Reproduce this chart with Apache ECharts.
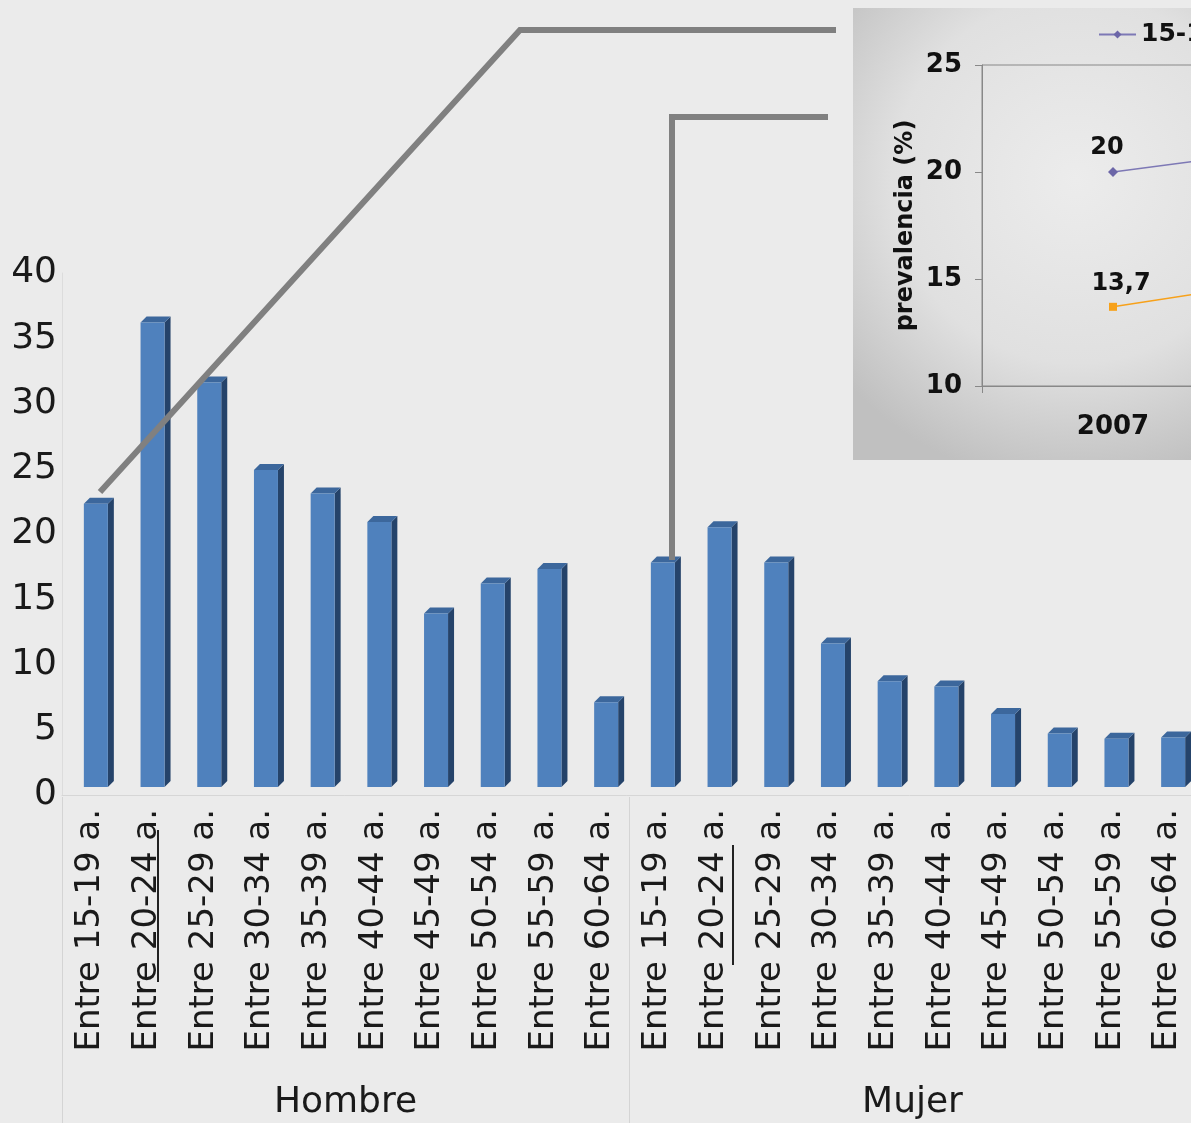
<!DOCTYPE html>
<html>
<head>
<meta charset="utf-8">
<script src="https://cdn.jsdelivr.net/npm/echarts@6/dist/echarts.min.js"></script>
<style>
html,body{margin:0;padding:0;background:#ebebeb;}
#main{width:1191px;height:1123px;}
</style>
</head>
<body>
<div id="main"></div>
<script>
// ---- data ----
var categories = [
  'Entre 15-19 a.','Entre 20-24 a.','Entre 25-29 a.','Entre 30-34 a.','Entre 35-39 a.',
  'Entre 40-44 a.','Entre 45-49 a.','Entre 50-54 a.','Entre 55-59 a.','Entre 60-64 a.',
  'Entre 15-19 a.','Entre 20-24 a.','Entre 25-29 a.','Entre 30-34 a.','Entre 35-39 a.',
  'Entre 40-44 a.','Entre 45-49 a.','Entre 50-54 a.','Entre 55-59 a.','Entre 60-64 a.'
];
var groups = ['Hombre', 'Mujer'];
var prevalence = [21.7, 35.6, 31.0, 24.3, 22.5, 20.3, 13.3, 15.6, 16.7, 6.5,
                  17.2, 19.9, 17.2, 11.0, 8.1, 7.7, 5.6, 4.1, 3.7, 3.8];
var valueTicks = {min: 0, max: 40, interval: 5};

var insetYears = ['2007', '2009'];
var insetSeriesNames = ['15-19 a. Hombre', '15-19 a. Mujer'];
var insetHombre = [20, 21.6];
var insetMujer = [13.7, 15.6];
var insetTicks = {min: 10, max: 25, interval: 5};

var FONT = '"DejaVu Sans", sans-serif';

function renderBar(params, api) {
  var idx = api.value(0);
  var top = api.coord([idx, api.value(1)]);
  var base = api.coord([idx, 0]);
  var lift = 8, dx = 6, dy = 6;
  var x0 = top[0] - 6.5, x1 = top[0] + 17.5;
  var yt = top[1] - lift, yb = base[1] - lift;
  return {
    type: 'group',
    children: [
      {type: 'polygon', shape: {points: [[x1, yt], [x1 + dx, yt - dy], [x1 + dx, yb - dy], [x1, yb]]},
       style: {fill: '#25436a'}},
      {type: 'polygon', shape: {points: [[x0, yt], [x0 + dx, yt - dy], [x1 + dx, yt - dy], [x1, yt]]},
       style: {fill: '#3c679c'}},
      {type: 'rect', shape: {x: x0, y: yt, width: x1 - x0, height: yb - yt},
       style: {fill: '#4f81bd'}}
    ]
  };
}

function commaLabel(p) { return String(p.value).replace('.', ','); }

var chart = echarts.init(document.getElementById('main'));
chart.setOption({
  backgroundColor: '#ebebeb',
  animation: false,
  textStyle: {fontFamily: FONT},
  legend: {
    left: 1093, top: 17,
    itemWidth: 37, itemHeight: 10, itemGap: 30,
    textStyle: {fontFamily: FONT, fontSize: 25, fontWeight: 'bold', color: '#111'},
    data: [insetSeriesNames[0]]
  },
  grid: [
    {left: 62, right: -5, top: 273, bottom: 328, outerBoundsMode: 'none', containLabel: false},
    {left: 982, width: 524, top: 65, bottom: 737, show: true, borderColor: '#888', borderWidth: 1,
     backgroundColor: 'transparent', outerBoundsMode: 'none', containLabel: false}
  ],
  xAxis: [
    {
      gridIndex: 0, type: 'category', data: categories,
      axisLine: {show: true, lineStyle: {color: '#d6d6d6', width: 1}},
      axisTick: {show: false},
      axisLabel: {rotate: 90, interval: 0, margin: 14, fontSize: 34, color: '#1a1a1a', fontFamily: FONT}
    },
    {
      gridIndex: 0, type: 'category', data: groups, position: 'bottom', offset: 328,
      axisLine: {show: false},
      axisTick: {show: true, inside: true, length: 326, lineStyle: {color: '#d4d4d4', width: 1}},
      axisLabel: {inside: true, margin: 2, fontSize: 36, color: '#1a1a1a', fontFamily: FONT}
    },
    {
      gridIndex: 1, type: 'category', data: insetYears,
      axisLine: {show: true, lineStyle: {color: '#888'}},
      axisTick: {show: true, length: 7, lineStyle: {color: '#888'}},
      axisLabel: {margin: 28, fontSize: 26, fontWeight: 'bold', color: '#111', fontFamily: FONT}
    }
  ],
  yAxis: [
    {
      gridIndex: 0, type: 'value', min: valueTicks.min, max: valueTicks.max, interval: valueTicks.interval,
      axisLine: {show: true, lineStyle: {color: '#dcdcdc'}},
      axisTick: {show: false},
      splitLine: {show: false},
      axisLabel: {margin: 5, fontSize: 36, color: '#1a1a1a', fontFamily: FONT}
    },
    {
      gridIndex: 1, type: 'value', min: insetTicks.min, max: insetTicks.max, interval: insetTicks.interval,
      name: 'prevalencia (%)', nameLocation: 'middle', nameGap: 64, nameRotate: 90,
      nameTextStyle: {fontSize: 24, fontWeight: 'bold', color: '#111', fontFamily: FONT},
      axisLine: {show: true, lineStyle: {color: '#888'}},
      axisTick: {show: true, length: 7, lineStyle: {color: '#888'}},
      splitLine: {show: false},
      axisLabel: {margin: 20, fontSize: 26, fontWeight: 'bold', color: '#111', fontFamily: FONT}
    }
  ],
  series: [
    {
      type: 'custom', xAxisIndex: 0, yAxisIndex: 0,
      renderItem: renderBar,
      data: prevalence.map(function (v, i) { return [i, v]; }),
      z: 3
    },
    {
      name: insetSeriesNames[0], type: 'line', xAxisIndex: 2, yAxisIndex: 1,
      data: insetHombre, symbol: 'diamond', symbolSize: 10,
      lineStyle: {color: '#7d78b5', width: 1.5},
      itemStyle: {color: '#6c66a8'},
      label: {show: true, position: 'top', distance: 7, offset: [-6, 0], fontSize: 24, fontWeight: 'bold',
              color: '#111', fontFamily: FONT, formatter: commaLabel},
      z: 5
    },
    {
      name: insetSeriesNames[1], type: 'line', xAxisIndex: 2, yAxisIndex: 1,
      data: insetMujer, symbol: 'rect', symbolSize: 8,
      lineStyle: {color: '#f7a11a', width: 1.5},
      itemStyle: {color: '#f7a11a'},
      label: {show: true, position: 'top', distance: 7, offset: [8, 0], fontSize: 24, fontWeight: 'bold',
              color: '#111', fontFamily: FONT, formatter: commaLabel},
      z: 5
    }
  ],
  graphic: [
    {
      type: 'rect', z: -10, silent: true,
      shape: {x: 853, y: 8, width: 360, height: 452},
      style: {
        fill: {
          type: 'radial', x: 0.62, y: 0.38, r: 0.85,
          colorStops: [{offset: 0, color: '#ececec'}, {offset: 0.6, color: '#e0e0e0'}, {offset: 1, color: '#c0c0c0'}]
        }
      }
    },
    {
      type: 'polyline', z: 100, silent: true,
      shape: {points: [[100, 492], [520, 30], [836, 30]]},
      style: {stroke: '#808080', lineWidth: 6, fill: null}
    },
    {
      type: 'polyline', z: 100, silent: true,
      shape: {points: [[672, 560], [672, 117], [828, 117]]},
      style: {stroke: '#808080', lineWidth: 6, fill: null}
    },
    {
      type: 'line', z: 100, silent: true,
      shape: {x1: 158, y1: 830, x2: 158, y2: 982},
      style: {stroke: '#222', lineWidth: 2}
    },
    {
      type: 'line', z: 100, silent: true,
      shape: {x1: 733, y1: 845, x2: 733, y2: 965},
      style: {stroke: '#222', lineWidth: 2}
    }
  ]
});
</script>
</body>
</html>
